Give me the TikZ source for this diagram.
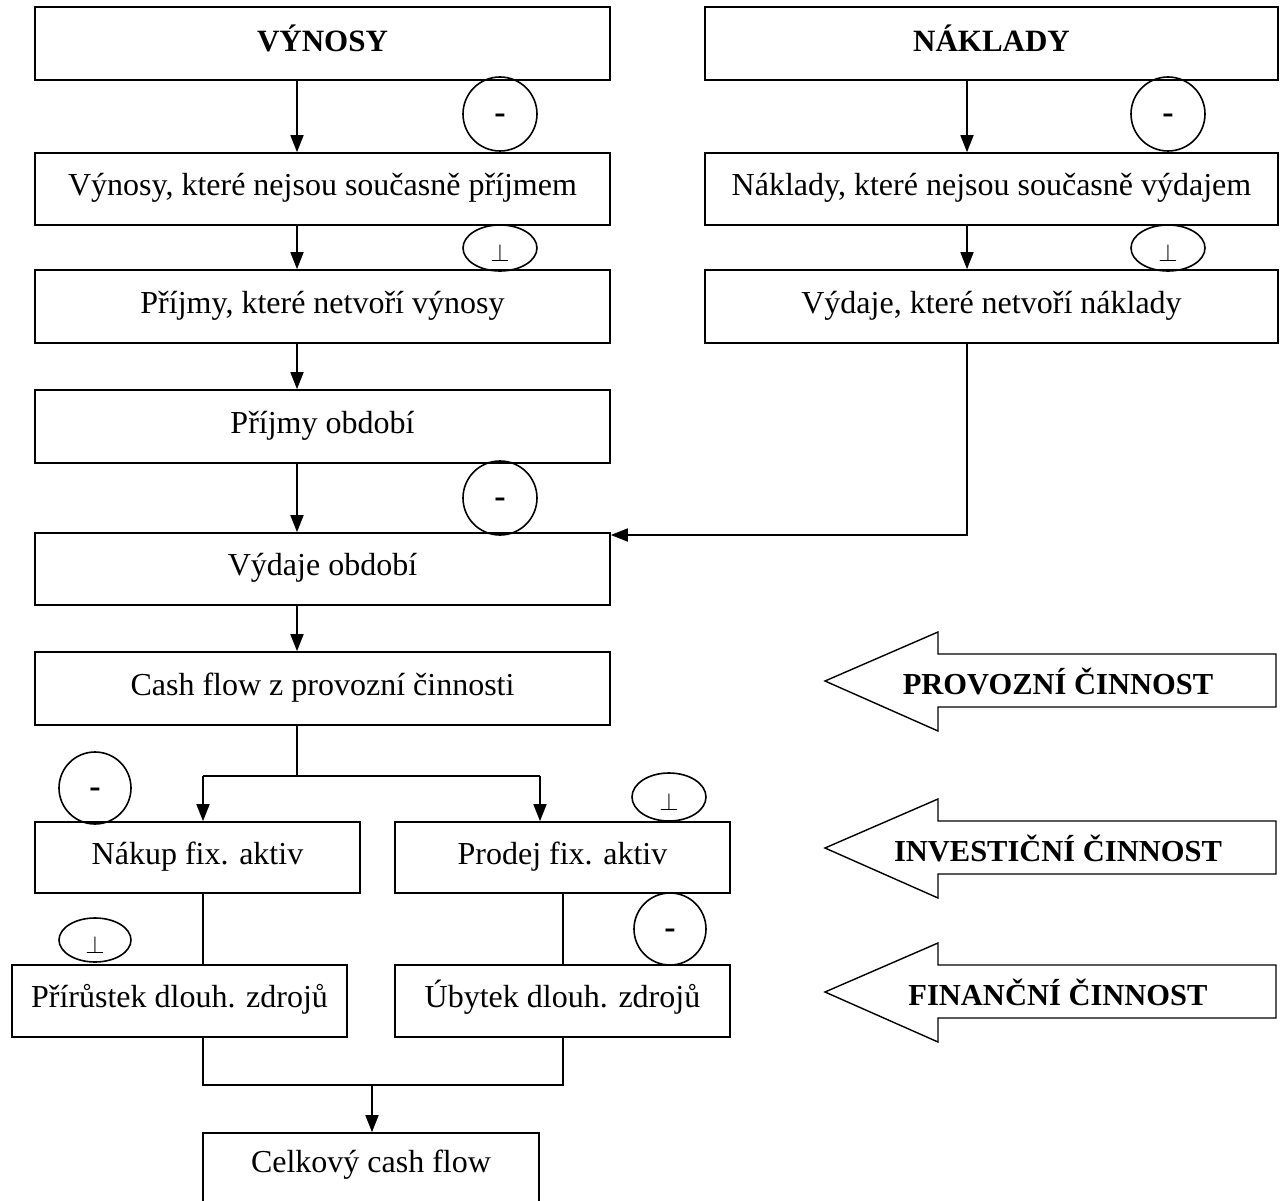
\documentclass[tikz,border=0pt]{standalone}
\usepackage{fontspec}
\setmainfont{Liberation Serif}
\usetikzlibrary{arrows.meta}
\begin{document}
\begin{tikzpicture}[x=1pt,y=-1pt,
  box/.style={draw,line width=1.6pt,inner sep=0pt,text height=21pt,text depth=8pt,font=\fontsize{32}{38}\selectfont},
  head/.style={box,text depth=4pt,font=\bfseries\fontsize{31}{36}\selectfont},
  arr/.style={line width=1.6pt,-{Triangle[length=17pt,width=13pt]}},
  ln/.style={line width=1.6pt},
  ring/.style={draw,line width=1.6pt,circle,inner sep=0pt},
  mtxt/.style={font=\bfseries\fontsize{34}{34}\selectfont,inner sep=0pt},
  plus/.style={font=\fontsize{24}{24}\selectfont,inner sep=0pt},
  big/.style={line width=1.4pt},
  bigtxt/.style={font=\bfseries\fontsize{30.5}{34}\selectfont}]
\useasboundingbox (0,0) rectangle (1286,1201);
% boxes
\node[head,minimum width=575pt,minimum height=73pt] (v0) at (322.5,43.5) {VÝNOSY};
\node[head,minimum width=573pt,minimum height=73pt] (n0) at (991.5,43.5) {NÁKLADY};
\node[box,minimum width=575pt,minimum height=72pt] (v1) at (322.5,189) {Výnosy, které nejsou současně příjmem};
\node[box,minimum width=573pt,minimum height=72pt] (n1) at (991.5,189) {Náklady, které nejsou současně výdajem};
\node[box,minimum width=575pt,minimum height=73pt] (v2) at (322.5,306.5) {Příjmy, které netvoří výnosy};
\node[box,minimum width=573pt,minimum height=73pt] (n2) at (991.5,306.5) {Výdaje, které netvoří náklady};
\node[box,minimum width=575pt,minimum height=73pt] (v3) at (322.5,426.5) {Příjmy období};
\node[box,minimum width=575pt,minimum height=72pt] (v4) at (322.5,569) {Výdaje období};
\node[box,minimum width=575pt,minimum height=73pt] (v5) at (322.5,688.5) {Cash flow z provozní činnosti};
\node[box,minimum width=325pt,minimum height=71pt] (a1) at (197.5,857.5) {Nákup fix. aktiv};
\node[box,minimum width=335pt,minimum height=71pt] (a2) at (562.5,857.5) {Prodej fix. aktiv};
\node[box,minimum width=335pt,minimum height=72pt] (f1) at (179.5,1001) {Přírůstek dlouh. zdrojů};
\node[box,minimum width=335pt,minimum height=72pt] (f2) at (562.5,1001) {Úbytek dlouh. zdrojů};
\node[box,minimum width=336pt,minimum height=76pt] (cc) at (371,1171) {};
\node[box,draw=none] (cct) at (371,1166) {Celkový cash flow};
% helper coordinates
\coordinate (xl) at (297,0);
\coordinate (xr) at (967,0);
\coordinate (xa) at (203,0);
\coordinate (xb) at (540,0);
\coordinate (xc) at (563,0);
\coordinate (xm) at (372,0);
\coordinate (yj) at (0,535);
\coordinate (ys) at (0,776);
\coordinate (yt) at (0,1085);
% left chain
\draw[arr] (v0.south -| xl) -- (v1.north -| xl);
\draw[arr] (v1.south -| xl) -- (v2.north -| xl);
\draw[arr] (v2.south -| xl) -- (v3.north -| xl);
\draw[arr] (v3.south -| xl) -- (v4.north -| xl);
\draw[arr] (v4.south -| xl) -- (v5.north -| xl);
% right chain
\draw[arr] (n0.south -| xr) -- (n1.north -| xr);
\draw[arr] (n1.south -| xr) -- (n2.north -| xr);
\draw[arr] (n2.south -| xr) -- (xr |- yj) -- (v4.east |- yj);
% split
\draw[ln] (v5.south -| xl) -- (xl |- ys);
\draw[arr] (xa |- ys) -- (a1.north -| xa);
\draw[arr] (xb |- ys) -- (a2.north -| xb);
\draw[ln] (xa |- ys) -- (xb |- ys);
\draw[ln] (a1.south -| xa) -- (f1.north -| xa);
\draw[ln] (a2.south -| xc) -- (f2.north -| xc);
\draw[ln] (f1.south -| xa) -- (xa |- yt) -- (xc |- yt) -- (f2.south -| xc);
\draw[arr] (xm |- yt) -- (cc.north -| xm);
% sign circles
\node[ring,minimum size=74pt] (s1) at (500,114) {};
\node[ring,minimum size=74pt] (s2) at (1168,114) {};
\node[ring,minimum size=74pt] (s3) at (500,498) {};
\node[ring,minimum size=72pt] (s4) at (95,788) {};
\node[ring,minimum size=72pt] (s5) at (670,929) {};
\foreach \s in {s1,s2,s3,s4,s5}{
  \node[mtxt,anchor=center] (\s m) at ([yshift=-5pt]\s.center) {-};
}
\draw[line width=1.6pt] (500,248) ellipse (37pt and 23pt);
\draw[line width=1.6pt] (1168,248) ellipse (37pt and 23pt);
\draw[line width=1.6pt] (95,940) ellipse (36pt and 22pt);
\draw[line width=1.6pt] (669,797) ellipse (37pt and 24pt);
\node[plus] (p1) at (500,253) {$\perp$};
\node[plus] (p2) at (1168,253) {$\perp$};
\node[plus] (p3) at (95,945) {$\perp$};
\node[plus] (p4) at (669,802) {$\perp$};
% block arrows
\foreach \yy/\txt/\nm in {681/PROVOZNÍ ČINNOST/b1, 848/INVESTIČNÍ ČINNOST/b2, 992/FINANČNÍ ČINNOST/b3}{
  \draw[big] (825,\yy) -- (938,\yy-49) -- (938,\yy-27) -- (1276,\yy-27) -- (1276,\yy+26) -- (938,\yy+26) -- (938,\yy+50) -- cycle;
  \node[bigtxt] (\nm) at (1058,\yy) {\txt};
}
\end{tikzpicture}
\end{document}
